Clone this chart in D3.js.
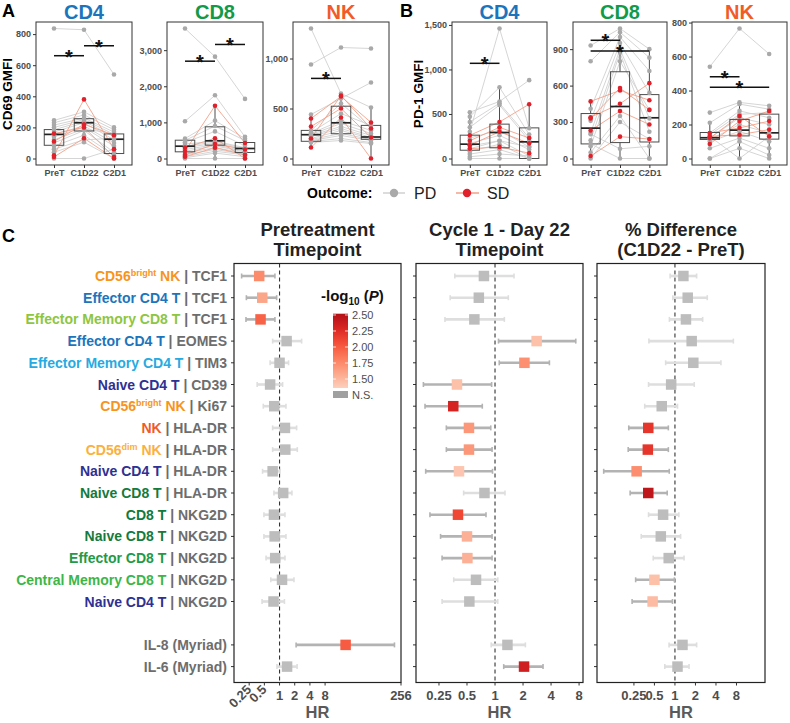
<!DOCTYPE html>
<html><head><meta charset="utf-8">
<script src="https://cdn.jsdelivr.net/npm/d3@7"></script>
<style>
html,body{margin:0;padding:0;background:#fff;}
svg{display:block;font-family:"Liberation Sans",Arial,Helvetica,sans-serif;}
</style></head><body>
<svg id="chart" width="790" height="723"></svg>
<script>
// ---------------- DATA ----------------
const timepoints = ["PreT","C1D22","C2D1"];
const subplotTitles = ["CD4","CD8","NK"];
const titleColors = {CD4:"#1c75bc", CD8:"#129a48", NK:"#f15a29"};

// Panel A: CD69 GMFI  (each row = one patient: PreT, C1D22, C2D1)
const cd69_CD4_PD = [[836,828,540],[245,300,200],[230,280,185],[215,260,170],[200,250,155],[185,240,140],[170,230,120],[155,210,100],[140,200,80],[120,190,160],[100,180,40],[80,150,20],[60,120,130],[40,105,0],[0,0,60]];
const cd69_CD4_SD = [[20,380,60],[10,130,0],[110,220,150],[160,200,10]];
const cd69_CD4_box = [[0,85,155,186,250],[105,177,230,256,300],[0,32,124,158,200]];
const cd69_CD4_sig = [[0,1,661],[1,2,725]];
const cd69_CD4_ticks = [0,200,400,600,800];

const cd69_CD8_PD = [[3600,2820,1650],[1030,1750,600],[550,1050,550],[500,900,500],[450,750,350],[400,480,300],[350,450,280],[300,420,250],[250,380,200],[200,350,180],[150,300,150],[100,250,120],[50,200,100],[20,150,50],[0,0,0]];
const cd69_CD8_SD = [[200,1460,430],[300,560,0],[100,400,250],[50,300,100]];
const cd69_CD8_box = [[0,185,341,507,550],[0,369,490,878,1460],[0,166,277,443,600]];
const cd69_CD8_sig = [[0,1,2695],[1,2,3158]];
const cd69_CD8_ticks = [0,1000,2000,3000];

const cd69_NK_PD = [[1300,650,510],[940,1110,1100],[440,600,760],[280,550,300],[260,450,330],[250,380,280],[240,350,250],[230,320,230],[220,300,210],[200,280,200],[190,250,190],[180,230,180],[170,200,160],[160,180,150]];
const cd69_NK_SD = [[400,620,360],[320,500,210],[110,410,0],[200,630,300]];
const cd69_NK_box = [[110,172,238,281,440],[180,248,357,523,650],[0,192,215,331,510]];
const cd69_NK_sig = [[0,1,801]];
const cd69_NK_ticks = [0,500,1000];

// Panel B: PD-1 GMFI
const pd1_CD4_PD = [[300,1460,340],[520,640,880],[470,800,270],[410,620,230],[350,600,200],[230,320,130],[170,260,100],[140,200,30],[80,160,0],[50,100,0],[20,50,30],[0,0,0],[110,200,130]];
const pd1_CD4_SD = [[260,410,610],[200,350,230],[110,130,60],[150,300,170]];
const pd1_CD4_box = [[0,93,161,262,520],[0,120,292,386,800],[0,0,187,344,610]];
const pd1_CD4_sig = [[0,1,1069]];
const pd1_CD4_ticks = [0,500,1000,1500];

const pd1_CD8_PD = [[930,1070,900],[800,1040,830],[410,1000,720],[310,950,540],[210,900,330],[150,870,220],[100,800,400],[50,350,0],[0,300,160],[200,80,100],[120,0,0]];
const pd1_CD8_SD = [[470,560,480],[340,450,620],[230,390,280],[20,180,160],[330,580,400]];
const pd1_CD8_box = [[0,120,250,370,470],[0,131,428,714,1070],[0,136,335,526,900]];
const pd1_CD8_sig = [[0,1,973],[0,2,885]];
const pd1_CD8_ticks = [0,300,600,900];

const pd1_NK_PD = [[540,765,615],[270,330,310],[210,320,290],[150,280,240],[140,260,270],[120,240,200],[110,200,150],[100,160,100],[60,120,60],[0,100,20],[0,60,0],[130,0,130]];
const pd1_NK_SD = [[85,220,280],[130,140,170],[150,180,220],[120,250,130]];
const pd1_NK_box = [[80,112,122,153,210],[0,133,167,230,330],[0,114,151,261,310]];
const pd1_NK_sig = [[0,1,481],[0,2,419]];
const pd1_NK_ticks = [0,200,400,600,800];

// Panel C: forest plots
const rowCell = ["CD56^bright NK","Effector CD4 T","Effector Memory CD8 T","Effector CD4 T","Effector Memory CD4 T","Naive CD4 T","CD56^bright NK","NK","CD56^dim NK","Naive CD4 T","Naive CD8 T","CD8 T","Naive CD8 T","Effector CD8 T","Central Memory CD8 T","Naive CD4 T","","",""];
const rowMarker = ["TCF1","TCF1","TCF1","EOMES","TIM3","CD39","Ki67","HLA-DR","HLA-DR","HLA-DR","HLA-DR","NKG2D","NKG2D","NKG2D","NKG2D","NKG2D","","IL-8 (Myriad)","IL-6 (Myriad)"];
const cellColors = {"CD56^bright NK":"#f7941d","Effector CD4 T":"#1c75bc","Effector Memory CD8 T":"#8dc63f","Effector Memory CD4 T":"#27aae1","Naive CD4 T":"#2e3192","NK":"#f15a29","CD56^dim NK":"#fbb040","Naive CD8 T":"#157a3b","CD8 T":"#117a3a","Effector CD8 T":"#1f9a48","Central Memory CD8 T":"#3cb649"};

const preHR  = [0.395,0.454,0.42,1.38,1.0,0.65,0.785,1.28,1.3,0.73,1.18,0.775,0.8,0.82,1.12,0.76,null,20.4,1.41];
const preLo  = [0.177,0.22,0.216,0.73,0.65,0.36,0.476,0.73,0.73,0.46,0.775,0.49,0.49,0.54,0.67,0.45,null,2.13,0.89];
const preHi  = [0.81,0.876,0.81,2.74,1.51,1.15,1.34,2.18,2.25,1.02,1.76,1.28,1.34,1.28,1.93,1.25,null,190,2.23];
const preLogP= [1.75,1.6,1.96,null,null,null,null,null,null,null,null,null,null,null,null,null,null,2.0,null];

const c1HR   = [0.76,0.67,0.6,2.8,2.07,0.39,0.356,0.525,0.525,0.41,0.77,0.4,0.5,0.505,0.625,0.53,null,1.36,2.05];
const c1Lo   = [0.37,0.33,0.29,1.09,1.11,0.17,0.177,0.3,0.3,0.18,0.46,0.2,0.26,0.27,0.36,0.27,null,0.91,1.24];
const c1Hi   = [1.6,1.39,1.26,7.37,3.84,0.92,0.73,0.9,0.93,0.94,1.28,0.8,0.93,0.93,1.07,1.07,null,2.12,3.28];
const c1LogP = [null,null,null,1.45,1.72,1.45,2.32,1.68,1.68,1.42,null,2.1,1.54,1.54,null,null,null,null,2.35];

const diffHR = [1.33,1.54,1.45,1.76,1.86,0.88,0.64,0.406,0.4,0.274,0.406,0.67,0.62,0.81,0.5,0.47,null,1.29,1.09];
const diffLo = [0.85,0.93,0.83,0.415,0.73,0.41,0.36,0.21,0.206,0.09,0.22,0.41,0.32,0.48,0.265,0.235,null,0.82,0.71];
const diffHi = [2.08,2.98,2.55,7.2,4.73,1.92,1.09,0.8,0.8,0.825,0.77,1.14,1.21,1.36,0.98,0.92,null,2.08,1.61];
const diffLogP=[null,null,null,null,null,null,null,2.2,2.2,1.73,2.45,null,null,null,1.45,1.48,null,null,null];

const forestTitles = [["Pretreatment","Timepoint"],["Cycle 1 - Day 22","Timepoint"],["% Difference","(C1D22 - PreT)"]];
const preTicks = [0.25,0.5,1,2,4,8,256];
const c1Ticks = [0.25,0.5,1,2,4,8];
const diffTicks = [0.25,0.5,1,2,4,8];
const preDomain = [0.125,256];
const c1Domain = [Math.pow(2,-2.82), Math.pow(2,3.14)];
const diffDomain = [Math.pow(2,-3.8), Math.pow(2,4.39)];
const legendBreaks = [1.5,1.75,2.0,2.25,2.5];
const legendRange = [1.36,2.52];

// ---------------- DRAW ----------------
const svg = d3.select("#chart");
const pColor = v => d3.interpolateReds(0.18 + (v - legendRange[0]) / (legendRange[1] - legendRange[0]) * 0.65);

svg.append("text").attr("x",2).attr("y",17).attr("font-size",18).attr("font-weight","bold").text("A");
svg.append("text").attr("x",400).attr("y",17).attr("font-size",18).attr("font-weight","bold").text("B");
svg.append("text").attr("x",2).attr("y",242).attr("font-size",18).attr("font-weight","bold").text("C");

const TOP = 22, BOT = 165;
function drawPaired(spec){
  const g = svg.append("g");
  const x = d3.scalePoint().domain(timepoints).range([spec.x0, spec.x1]).padding(0.6);
  const all = spec.pd.concat(spec.sd).flat();
  const mn = d3.min(all), mx = d3.max(all), pad = (mx - mn) * 0.05;
  const y = d3.scaleLinear().domain([mn - pad, mx + pad]).range([BOT, TOP]);
  const line = d3.line().x((d,i) => x(timepoints[i])).y(d => y(d));
  g.selectAll(null).data(spec.pd).join("path").attr("d", line)
    .attr("fill","none").attr("stroke","#d0d0d0").attr("stroke-width",0.9);
  g.selectAll(null).data(spec.sd).join("path").attr("d", line)
    .attr("fill","none").attr("stroke","#f3a089").attr("stroke-width",0.9);
  const bw = x.step() * 0.65;
  spec.box.forEach((b, i) => {
    const cx = x(timepoints[i]);
    g.append("line").attr("x1",cx).attr("x2",cx).attr("y1",y(b[0])).attr("y2",y(b[1])).attr("stroke","#4d4d4d").attr("stroke-width",1);
    g.append("line").attr("x1",cx).attr("x2",cx).attr("y1",y(b[3])).attr("y2",y(b[4])).attr("stroke","#4d4d4d").attr("stroke-width",1);
    g.append("rect").attr("x",cx - bw/2).attr("width",bw).attr("y",y(b[3])).attr("height",Math.max(0.5,y(b[1]) - y(b[3])))
      .attr("fill","none").attr("stroke","#4d4d4d").attr("stroke-width",1);
    g.append("line").attr("x1",cx - bw/2).attr("x2",cx + bw/2).attr("y1",y(b[2])).attr("y2",y(b[2])).attr("stroke","#222").attr("stroke-width",1.7);
  });
  spec.pd.forEach(p => p.forEach((v,i) => g.append("circle").attr("cx",x(timepoints[i])).attr("cy",y(v)).attr("r",2.3).attr("fill","#a9a9a9")));
  spec.sd.forEach(p => p.forEach((v,i) => g.append("circle").attr("cx",x(timepoints[i])).attr("cy",y(v)).attr("r",2.3).attr("fill","#e0202a")));
  // border
  g.append("rect").attr("x",spec.x0).attr("y",TOP).attr("width",spec.x1 - spec.x0).attr("height",BOT - TOP)
    .attr("fill","none").attr("stroke","#333").attr("stroke-width",1);
  // axes
  const ya = g.append("g").attr("transform",`translate(${spec.x0},0)`)
    .call(d3.axisLeft(y).tickValues(spec.ticks).tickSize(3).tickPadding(2).tickFormat(d3.format(",")));
  const xa = g.append("g").attr("transform",`translate(0,${BOT})`)
    .call(d3.axisBottom(x).tickSize(3).tickPadding(2));
  [ya, xa].forEach(a => {
    a.select(".domain").remove();
    a.selectAll(".tick line").attr("stroke","#333");
    a.selectAll(".tick text").attr("fill","#4d4d4d").attr("font-size",9).attr("font-weight","bold")
      .attr("font-family","Liberation Sans, Arial, sans-serif");
  });
  // significance
  spec.sig.forEach(s => {
    const xa1 = x(timepoints[s[0]]), xa2 = x(timepoints[s[1]]), yy = y(s[2]);
    g.append("line").attr("x1",xa1).attr("x2",xa2).attr("y1",yy).attr("y2",yy).attr("stroke","#111").attr("stroke-width",1.5);
    g.append("text").attr("x",(xa1 + xa2)/2).attr("y",yy + 8).attr("text-anchor","middle")
      .attr("font-size",20).attr("font-weight","bold").attr("fill","#111").text("*");
  });
  // title
  g.append("text").attr("x",(spec.x0 + spec.x1)/2).attr("y",19).attr("text-anchor","middle")
    .attr("font-size",20).attr("font-weight","bold").attr("fill",titleColors[spec.title]).text(spec.title);
}

const panelsAB = [
  {pd:cd69_CD4_PD, sd:cd69_CD4_SD, box:cd69_CD4_box, sig:cd69_CD4_sig, ticks:cd69_CD4_ticks, title:subplotTitles[0], x0:36, x1:132},
  {pd:cd69_CD8_PD, sd:cd69_CD8_SD, box:cd69_CD8_box, sig:cd69_CD8_sig, ticks:cd69_CD8_ticks, title:subplotTitles[1], x0:167, x1:263},
  {pd:cd69_NK_PD, sd:cd69_NK_SD, box:cd69_NK_box, sig:cd69_NK_sig, ticks:cd69_NK_ticks, title:subplotTitles[2], x0:293, x1:389},
  {pd:pd1_CD4_PD, sd:pd1_CD4_SD, box:pd1_CD4_box, sig:pd1_CD4_sig, ticks:pd1_CD4_ticks, title:subplotTitles[0], x0:452, x1:547},
  {pd:pd1_CD8_PD, sd:pd1_CD8_SD, box:pd1_CD8_box, sig:pd1_CD8_sig, ticks:pd1_CD8_ticks, title:subplotTitles[1], x0:573, x1:667},
  {pd:pd1_NK_PD, sd:pd1_NK_SD, box:pd1_NK_box, sig:pd1_NK_sig, ticks:pd1_NK_ticks, title:subplotTitles[2], x0:692, x1:787}
];
panelsAB.forEach(drawPaired);

svg.append("text").attr("transform","translate(12,94) rotate(-90)").attr("text-anchor","middle")
  .attr("font-size",13.5).attr("font-weight","bold").text("CD69 GMFI");
svg.append("text").attr("transform","translate(423,94) rotate(-90)").attr("text-anchor","middle")
  .attr("font-size",13.5).attr("font-weight","bold").text("PD-1 GMFI");

// outcome legend
const lg = svg.append("g");
lg.append("text").attr("x",307).attr("y",198).attr("font-size",14).attr("font-weight","bold").text("Outcome:");
lg.append("line").attr("x1",383).attr("x2",405).attr("y1",193).attr("y2",193).attr("stroke","#d0d0d0").attr("stroke-width",1.5);
lg.append("circle").attr("cx",394).attr("cy",193).attr("r",4.2).attr("fill","#a9a9a9");
lg.append("text").attr("x",414).attr("y",199).attr("font-size",16).attr("fill","#222").text("PD");
lg.append("line").attr("x1",456).attr("x2",479).attr("y1",193).attr("y2",193).attr("stroke","#f3a089").attr("stroke-width",1.5);
lg.append("circle").attr("cx",467).attr("cy",193).attr("r",4.2).attr("fill","#e0202a");
lg.append("text").attr("x",487).attr("y",199).attr("font-size",16).attr("fill","#222").text("SD");

// ---------------- Panel C ----------------
const rowKeys = rowMarker.map((m,i) => "r" + i);
const yC = d3.scalePoint().domain(rowKeys).range([276, 666.6]);
const CTOP = 263.5, CBOT = 682.5;

rowKeys.forEach((k,i) => {
  if (!rowMarker[i]) return;
  const t = svg.append("text").attr("x",227).attr("y",yC(k) + 5).attr("text-anchor","end")
    .attr("font-size",14).attr("font-weight","bold");
  const cell = rowCell[i];
  if (cell) {
    const col = cellColors[cell];
    const m = cell.match(/^(.*)\^(\S+)(.*)$/);
    if (m) {
      t.append("tspan").attr("fill",col).text(m[1]);
      t.append("tspan").attr("fill",col).attr("font-size",9).attr("dy",-5).text(m[2]);
      t.append("tspan").attr("fill",col).attr("dy",5).text(m[3]);
    } else t.append("tspan").attr("fill",col).text(cell);
    t.append("tspan").attr("fill","#6d6d6d").text(" | " + rowMarker[i]);
  } else {
    t.append("tspan").attr("fill","#6d6d6d").text(rowMarker[i]);
  }
});

function drawForest(spec){
  const g = svg.append("g");
  const x = d3.scaleLog().base(2).domain(spec.domain).range([spec.x0, spec.x1]);
  g.append("line").attr("x1",x(1)).attr("x2",x(1)).attr("y1",CTOP).attr("y2",CBOT)
    .attr("stroke","#333").attr("stroke-width",1.1).attr("stroke-dasharray","4,3");
  rowKeys.forEach((k,i) => {
    if (spec.hr[i] == null) return;
    const yy = yC(k);
    const sig = spec.p[i] != null;
    const bc = sig ? "#b3b3b3" : "#dedede";
    g.append("line").attr("x1",x(spec.lo[i])).attr("x2",x(spec.hi[i])).attr("y1",yy).attr("y2",yy).attr("stroke",bc).attr("stroke-width",2.6);
    [spec.lo[i], spec.hi[i]].forEach(v => g.append("line").attr("x1",x(v)).attr("x2",x(v)).attr("y1",yy-2.5).attr("y2",yy+2.5).attr("stroke",bc).attr("stroke-width",1.6));
    const s = 10.5;
    g.append("rect").attr("x",x(spec.hr[i]) - s/2).attr("y",yy - s/2).attr("width",s).attr("height",s)
      .attr("fill", sig ? pColor(spec.p[i]) : "#bdbdbd");
    g.append("line").attr("x1",spec.x0 - 3).attr("x2",spec.x0).attr("y1",yy).attr("y2",yy).attr("stroke","#333");
  });
  g.append("rect").attr("x",spec.x0).attr("y",CTOP).attr("width",spec.x1 - spec.x0).attr("height",CBOT - CTOP)
    .attr("fill","none").attr("stroke","#222").attr("stroke-width",1.2);
  spec.ticks.forEach(v => {
    const xx = x(v);
    g.append("line").attr("x1",xx).attr("x2",xx).attr("y1",CBOT).attr("y2",CBOT + 3).attr("stroke","#333");
    const lab = String(v);
    if (spec.rotate && v < 1) {
      g.append("text").attr("transform",`translate(${xx + 3},${CBOT + 8}) rotate(-45)`).attr("text-anchor","end")
        .attr("font-size",13).attr("font-weight","bold").attr("fill","#4d4d4d").text(lab);
    } else {
      g.append("text").attr("x",xx).attr("y",CBOT + 17).attr("text-anchor","middle")
        .attr("font-size",13).attr("font-weight","bold").attr("fill","#4d4d4d").text(lab);
    }
  });
  g.append("text").attr("x",(spec.x0 + spec.x1)/2).attr("y",718).attr("text-anchor","middle")
    .attr("font-size",16.5).attr("font-weight","bold").attr("fill","#5a5a5a").text("HR");
  g.append("text").attr("x",(spec.x0 + spec.x1)/2).attr("y",236).attr("text-anchor","middle")
    .attr("font-size",18.5).attr("font-weight","bold").attr("fill","#222").text(spec.title[0]);
  g.append("text").attr("x",(spec.x0 + spec.x1)/2).attr("y",256).attr("text-anchor","middle")
    .attr("font-size",18.5).attr("font-weight","bold").attr("fill","#222").text(spec.title[1]);
}

drawForest({x0:234, x1:401, domain:preDomain, ticks:preTicks, rotate:true, hr:preHR, lo:preLo, hi:preHi, p:preLogP, title:forestTitles[0]});
drawForest({x0:416, x1:583, domain:c1Domain, ticks:c1Ticks, rotate:false, hr:c1HR, lo:c1Lo, hi:c1Hi, p:c1LogP, title:forestTitles[1]});
drawForest({x0:597, x1:765, domain:diffDomain, ticks:diffTicks, rotate:false, hr:diffHR, lo:diffLo, hi:diffHi, p:diffLogP, title:forestTitles[2]});

// colour legend
const leg = svg.append("g");
const ly = d3.scaleLinear().domain(legendRange).range([388, 313.7]);
const grad = svg.append("defs").append("linearGradient").attr("id","pgrad").attr("x1",0).attr("x2",0).attr("y1",1).attr("y2",0);
d3.range(0, 1.0001, 0.1).forEach(t => {
  grad.append("stop").attr("offset",t).attr("stop-color",pColor(legendRange[0] + t * (legendRange[1] - legendRange[0])));
});
leg.append("text").attr("x",321).attr("y",301).attr("font-size",15).attr("font-weight","bold").attr("fill","#111")
  .call(t => {
    t.append("tspan").text("-log");
    t.append("tspan").attr("font-size",10).attr("dy",4).text("10");
    t.append("tspan").attr("dy",-4).text(" (");
    t.append("tspan").attr("font-style","italic").text("P");
    t.append("tspan").text(")");
  });
leg.append("rect").attr("x",333).attr("y",ly(legendRange[1])).attr("width",15).attr("height",ly(legendRange[0]) - ly(legendRange[1])).attr("fill","url(#pgrad)");
legendBreaks.forEach(b => {
  leg.append("line").attr("x1",333).attr("x2",336).attr("y1",ly(b)).attr("y2",ly(b)).attr("stroke","#fff").attr("stroke-width",0.8);
  leg.append("line").attr("x1",345).attr("x2",348).attr("y1",ly(b)).attr("y2",ly(b)).attr("stroke","#fff").attr("stroke-width",0.8);
  leg.append("text").attr("x",352).attr("y",ly(b) + 4).attr("font-size",11).attr("fill","#4d4d4d").text(d3.format(".2f")(b));
});
leg.append("rect").attr("x",333).attr("y",391).attr("width",15).attr("height",7).attr("fill","#a0a0a0");
leg.append("text").attr("x",352).attr("y",399).attr("font-size",11).attr("fill","#4d4d4d").text("N.S.");
</script>
</body></html>
